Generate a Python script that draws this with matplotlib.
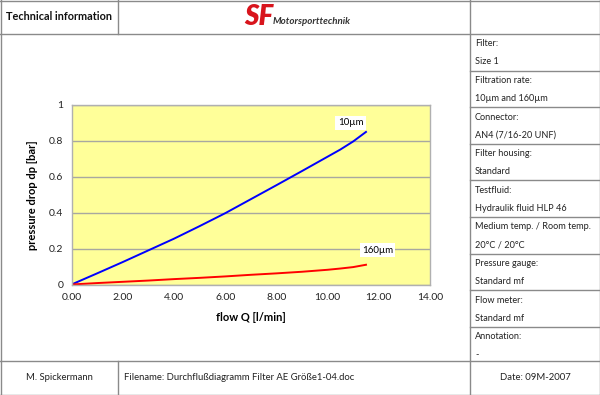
import matplotlib
matplotlib.use("Agg")
import matplotlib.pyplot as plt
from matplotlib.lines import Line2D

plt.rcParams['font.family'] = ['Lato', 'DejaVu Sans']

# flow Q [l/min]
flow = [0, 1, 2, 3, 4, 5, 6, 7, 8, 9, 10, 10.5, 11, 11.5]
# pressure drop dp [bar]
dp_10um = [0, 0.062, 0.125, 0.19, 0.255, 0.325, 0.397, 0.475, 0.553, 0.632, 0.712, 0.752, 0.797, 0.85]
dp_160um = [0, 0.008, 0.015, 0.022, 0.03, 0.037, 0.045, 0.054, 0.062, 0.071, 0.082, 0.089, 0.097, 0.11]

x_ticks = [0, 2, 4, 6, 8, 10, 12, 14]
y_ticks = [0, 0.2, 0.4, 0.6, 0.8, 1]

info_rows = [
    ("Filter:", "Size 1"),
    ("Filtration rate:", "10µm and 160µm"),
    ("Connector:", "AN4 (7/16-20 UNF)"),
    ("Filter housing:", "Standard"),
    ("Testfluid:", "Hydraulik fluid HLP 46"),
    ("Medium temp. / Room temp.", "20°C / 20°C"),
    ("Pressure gauge:", "Standard mf"),
    ("Flow meter:", "Standard mf"),
    ("Annotation:", "-"),
]

W, H = 600, 395
fig = plt.figure(figsize=(6, 3.95), dpi=100)
fig.patch.set_facecolor('white')


def fx(px):
    return px / W


def fy(py):
    return 1 - py / H


def hline(x0, x1, y, c='#8a8a8a', lw=1.0):
    fig.add_artist(Line2D([fx(x0), fx(x1)], [fy(y), fy(y)], color=c, lw=lw))


def vline(x, y0, y1, c='#8a8a8a', lw=1.0):
    fig.add_artist(Line2D([fx(x), fx(x)], [fy(y0), fy(y1)], color=c, lw=lw))


# frame
hline(0, 600, 0.5)
hline(0, 600, 394.5)
vline(0.5, 0, 395)
vline(599.5, 0, 395)
hline(0, 600, 34)
hline(0, 600, 361)
vline(118, 0, 34)
vline(118, 361, 395)
vline(470, 0, 395)

fig.text(fx(59), fy(17), "Technical information", ha='center', va='center',
         fontsize=7.8, fontweight='bold', color='#111111')

# logo
fig.text(fx(259), fy(17), "SF", ha='center', va='center', fontsize=20,
         fontweight='heavy', fontstyle='italic', color='#d8141c')
fig.text(fx(273), fy(22), "Motorsporttechnik", ha='left', va='center', fontsize=7,
         fontstyle='italic', fontweight='bold', color='#333333')

# right info panel
top = 34
step = 36.6
for i, (lab, val) in enumerate(info_rows):
    y0 = top + i * step
    if i > 0:
        hline(470, 600, y0)
    fig.text(fx(475), fy(y0 + 10), lab, ha='left', va='center', fontsize=6.6, color='#222222')
    fig.text(fx(475), fy(y0 + 28), val, ha='left', va='center', fontsize=6.6, color='#222222')

# footer
fig.text(fx(59), fy(378), "M. Spickermann", ha='center', va='center', fontsize=6.8, color='#222222')
fig.text(fx(124), fy(378), "Filename: Durchflußdiagramm Filter AE Größe1-04.doc", ha='left',
         va='center', fontsize=6.8, color='#222222')
fig.text(fx(535), fy(378), "Date: 09M-2007", ha='center', va='center', fontsize=6.8, color='#222222')

# chart
ax = fig.add_axes([fx(71.5), fy(284.5), fx(430 - 71.5), (284.5 - 105) / H])
ax.set_facecolor('#ffff99')
ax.plot(flow, dp_10um, color='#0000ff', lw=1.4, solid_joinstyle='round')
ax.plot(flow, dp_160um, color='#ff0000', lw=1.4, solid_joinstyle='round')
ax.set_xlim(0, 14)
ax.set_ylim(0, 1)
ax.set_xticks(x_ticks)
ax.set_xticklabels([f"{v:.2f}" for v in x_ticks])
ax.set_yticks(y_ticks)
ax.set_yticklabels([f"{v:g}" for v in y_ticks])
ax.tick_params(length=0, labelsize=7.5, colors='#222222', pad=6)
ax.yaxis.grid(True, color='#a8a8a0', lw=1.0)
ax.set_axisbelow(True)
for s in ax.spines.values():
    s.set_color('#b0b0b0')
    s.set_linewidth(1.0)
ax.set_xlabel("flow Q [l/min]", fontsize=8, fontweight='bold', labelpad=7)
ax.set_ylabel("pressure drop dp [bar]", fontsize=8, fontweight='bold', labelpad=8)

box = dict(boxstyle='square,pad=0.25', fc='white', ec='none')
ax.text(10.9, 0.9, "10µm", ha='center', va='center', fontsize=7, bbox=box)
ax.text(11.95, 0.19, "160µm", ha='center', va='center', fontsize=7, bbox=box)

fig.savefig("out.png", dpi=100)
